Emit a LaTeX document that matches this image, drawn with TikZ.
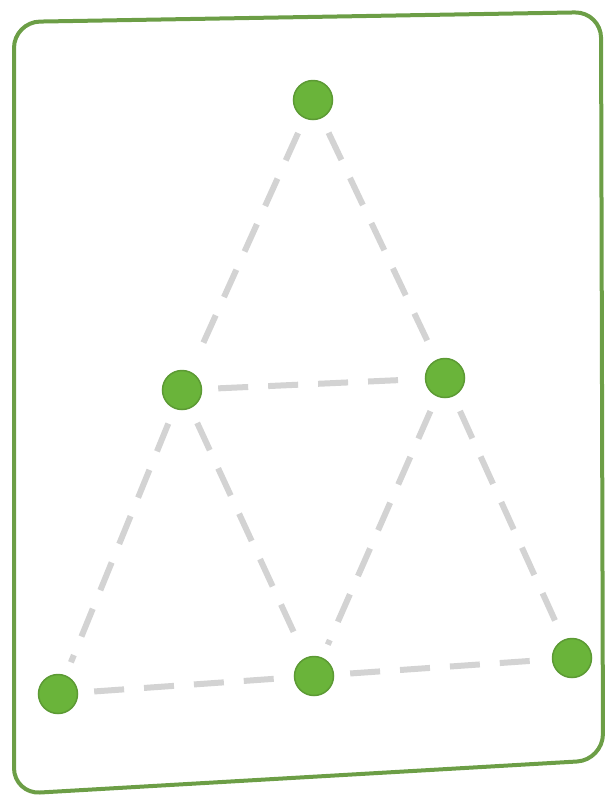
\documentclass[tikz,border=0pt]{standalone}
\begin{document}
\begin{tikzpicture}[x=1pt,y=-1pt,
  dot/.style={circle,fill=dotgreen,draw=dotedge,line width=1.5pt,minimum size=39pt,inner sep=0pt},
  link/.style={draw=linkgray,line width=6pt,dash pattern=on 30pt off 20pt,shorten <=16pt,shorten >=14pt},
  frame/.style={draw=framegreen,line width=4pt,rounded corners=26pt}]
\definecolor{dotgreen}{HTML}{6AB43A}
\definecolor{dotedge}{HTML}{5C9A34}
\definecolor{linkgray}{HTML}{D3D3D3}
\definecolor{framegreen}{HTML}{6C9E46}
\useasboundingbox (0,0) rectangle (606,796);
\draw[frame] (14,22) -- (601,12) -- (603,760) -- (14,794) -- cycle;
\node[dot] (t) at (313,100) {};
\node[dot] (ml) at (182,390) {};
\node[dot] (mr) at (445,378) {};
\node[dot] (bl) at (58,694) {};
\node[dot] (bm) at (314,676) {};
\node[dot] (br) at (572,658) {};
\path[link] (t) -- (ml);
\path[link] (ml) -- (bl);
\path[link] (t) -- (mr);
\path[link] (mr) -- (br);
\path[link] (bl) -- (bm);
\path[link] (bm) -- (br);
\path[link] (ml) -- (mr);
\path[link] (ml) -- (bm);
\path[link] (mr) -- (bm);
\end{tikzpicture}
\end{document}
